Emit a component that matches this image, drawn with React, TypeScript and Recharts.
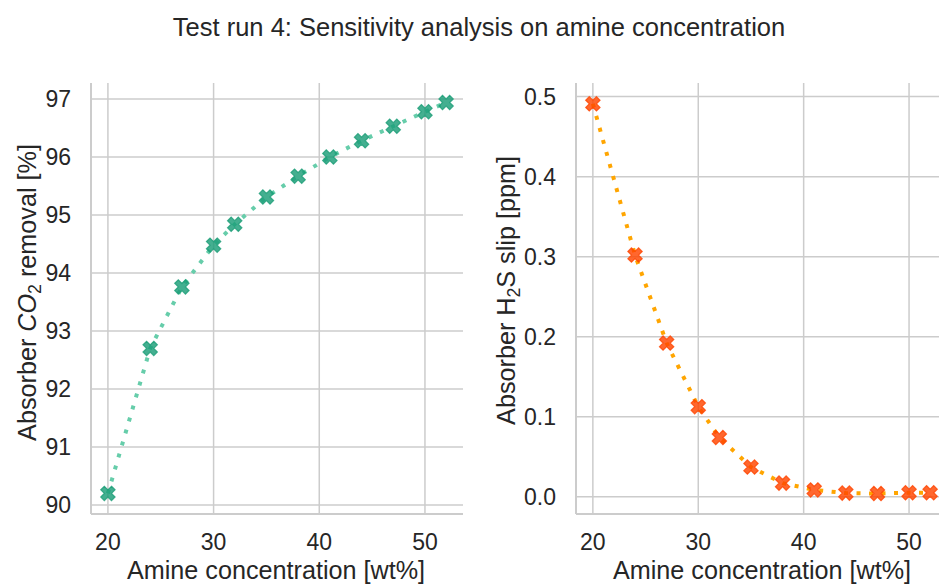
import React from 'react';
import { LineChart, Line, XAxis, YAxis, CartesianGrid } from 'recharts';

// ---- data ----
const concentrations = [20, 24, 27, 30, 32, 35, 38, 41, 44, 47, 50, 52];
const co2Removal = [90.2, 92.7, 93.76, 94.48, 94.84, 95.31, 95.67, 96.0, 96.28, 96.53, 96.78, 96.94];
const h2sSlip = [0.491, 0.302, 0.192, 0.1125, 0.074, 0.037, 0.017, 0.0085, 0.0045, 0.004, 0.005, 0.005];

const xTicks = [20, 30, 40, 50];
const co2Ticks = [90, 91, 92, 93, 94, 95, 96, 97];
const h2sTicks = [0, 0.1, 0.2, 0.3, 0.4, 0.5];

const titleText = 'Test run 4: Sensitivity analysis on amine concentration';
const xLabelText = 'Amine concentration [wt%]';

const co2Data = concentrations.map((x, i) => ({ x, y: co2Removal[i] }));
const h2sData = concentrations.map((x, i) => ({ x, y: h2sSlip[i] }));

const FONT = '"Liberation Sans", Arial, sans-serif';
const TEXT = '#262626';
const GRID = '#cccccc';
const TICK_FS = 23;
const LABEL_FS = 25.2;
const TITLE_FS = 25.5;

const PLUS = [
  [-1, -3], [1, -3], [1, -1], [3, -1], [3, 1], [1, 1],
  [1, 3], [-1, 3], [-1, 1], [-3, 1], [-3, -1], [-1, -1],
];

function makeXMarker(color: string) {
  return (props: any) => {
    const { cx, cy, index } = props;
    if (cx == null || cy == null) return <g key={`e-${index}`} />;
    const s = 15.2;
    const k = s / 6;
    const pts = PLUS.map(([x, y]) => {
      const rx = ((x - y) / Math.SQRT2) * k;
      const ry = ((x + y) / Math.SQRT2) * k;
      return `${(cx + rx).toFixed(2)},${(cy + ry).toFixed(2)}`;
    }).join(' ');
    return (
      <polygon
        key={`m-${index}`}
        points={pts}
        fill={color}
        fillOpacity={0.82}
        stroke={color}
        strokeOpacity={0.8}
        strokeWidth={1.2}
      />
    );
  };
}

const tickStyle = { fill: TEXT, fontSize: TICK_FS, fontFamily: FONT };
const axisLineStyle = { stroke: GRID, strokeWidth: 2 };

export default function App() {
  return (
    <div
      style={{
        position: 'absolute',
        left: 0,
        top: 0,
        width: 939,
        height: 586,
        overflow: 'hidden',
        background: '#ffffff',
      }}
    >
      <div style={{ position: 'absolute', left: 0, top: 0, width: 470, height: 586 }}>
        <LineChart width={470} height={586} data={co2Data} margin={{ top: 83, right: 7, bottom: 12, left: 11 }}>
          <CartesianGrid stroke={GRID} strokeWidth={1.5} syncWithTicks />
          <XAxis
            dataKey="x"
            type="number"
            domain={[18.4, 53.6]}
            allowDataOverflow
            ticks={xTicks}
            interval={0}
            height={60}
            axisLine={axisLineStyle}
            tickLine={false}
            tickSize={0}
            tickMargin={20}
            tick={tickStyle}
          />
          <YAxis
            type="number"
            domain={[89.845, 97.276]}
            allowDataOverflow
            ticks={co2Ticks}
            interval={0}
            width={80}
            axisLine={axisLineStyle}
            tickLine={false}
            tickSize={0}
            tickMargin={20}
            tick={tickStyle}
          />
          <Line
            dataKey="y"
            stroke="none"
            dot={makeXMarker('#1b9e77')}
            activeDot={false}
            isAnimationActive={false}
          />
          <Line
            dataKey="y"
            type="linear"
            stroke="#66cdaa"
            strokeWidth={4}
            strokeDasharray="4 8.5"
            dot={false}
            activeDot={false}
            isAnimationActive={false}
          />
        </LineChart>
      </div>

      <div style={{ position: 'absolute', left: 470, top: 0, width: 490, height: 586 }}>
        <LineChart width={490} height={586} data={h2sData} margin={{ top: 83, right: 13, bottom: 12, left: 26 }}>
          <CartesianGrid stroke={GRID} strokeWidth={1.5} syncWithTicks />
          <XAxis
            dataKey="x"
            type="number"
            domain={[18.4, 53.6]}
            allowDataOverflow
            ticks={xTicks}
            interval={0}
            height={60}
            axisLine={axisLineStyle}
            tickLine={false}
            tickSize={0}
            tickMargin={20}
            tick={tickStyle}
          />
          <YAxis
            type="number"
            domain={[-0.0216, 0.517]}
            allowDataOverflow
            ticks={h2sTicks}
            interval={0}
            width={80}
            axisLine={axisLineStyle}
            tickLine={false}
            tickSize={0}
            tickMargin={20}
            tick={tickStyle}
            tickFormatter={(v: number) => v.toFixed(1)}
          />
          <Line
            dataKey="y"
            stroke="none"
            dot={makeXMarker('#ff4500')}
            activeDot={false}
            isAnimationActive={false}
          />
          <Line
            dataKey="y"
            type="linear"
            stroke="#ffa500"
            strokeWidth={4}
            strokeDasharray="4 8.5"
            dot={false}
            activeDot={false}
            isAnimationActive={false}
          />
        </LineChart>
      </div>

      <svg
        width={939}
        height={586}
        style={{ position: 'absolute', left: 0, top: 0, pointerEvents: 'none' }}
        fontFamily={FONT}
        fill={TEXT}
      >
        <text x={479} y={36} textAnchor="middle" fontSize={TITLE_FS}>
          {titleText}
        </text>
        <text x={276} y={579} textAnchor="middle" fontSize={LABEL_FS}>
          {xLabelText}
        </text>
        <text x={762} y={579} textAnchor="middle" fontSize={LABEL_FS}>
          {xLabelText}
        </text>
        <text transform="translate(36,292.5) rotate(-90)" textAnchor="middle" fontSize={LABEL_FS}>
          Absorber <tspan fontStyle="italic">CO</tspan>
          <tspan dy="0.3em" fontSize="0.7em">2</tspan>
          <tspan dy="-0.21em"> removal [%]</tspan>
        </text>
        <text transform="translate(515,290.5) rotate(-90)" textAnchor="middle" fontSize={LABEL_FS}>
          Absorber H<tspan dy="0.3em" fontSize="0.7em">2</tspan>
          <tspan dy="-0.21em">S slip [ppm]</tspan>
        </text>
      </svg>
    </div>
  );
}
